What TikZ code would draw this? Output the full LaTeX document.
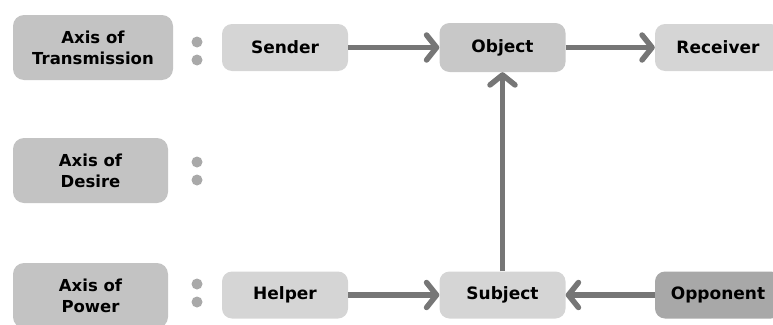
\documentclass[tikz,border=0pt]{standalone}
\usepackage{fontspec}
\setmainfont{DejaVu Sans}
\usetikzlibrary{arrows.meta}
\definecolor{axisfill}{HTML}{C3C3C3}
\definecolor{rolefill}{HTML}{D5D5D5}
\definecolor{objfill}{HTML}{C8C8C8}
\definecolor{oppfill}{HTML}{A8A8A8}
\definecolor{dotfill}{HTML}{A9A9A9}
\definecolor{linkcol}{HTML}{767676}
\tikzset{
  axisbox/.style={fill=axisfill, rounded corners=11pt, minimum height=65pt,
    align=center, font=\fontsize{16.5}{21}\selectfont\bfseries, inner sep=0pt},
  rolebox/.style={fill=rolefill, rounded corners=10pt, minimum width=126pt,
    minimum height=47pt, font=\fontsize{17}{20}\selectfont\bfseries, inner sep=0pt},
  dot/.style={circle, fill=dotfill, minimum size=11pt, inner sep=0pt},
  link/.style={draw=linkcol, line width=5.5pt,
    -{Straight Barb[length=10pt,width=25pt,line width=5.5pt,round]}},
}
\begin{document}
\begin{tikzpicture}[x=1pt,y=-1pt]
\useasboundingbox (0,0) rectangle (773,324);

% axis labels
\node[axisbox, minimum width=160pt] (axT) at (93,47.5) {Axis of\\Transmission};
\node[axisbox, minimum width=155pt] (axD) at (90.5,170.5) {Axis of\\Desire};
\node[axisbox, minimum width=155pt] (axP) at (90.5,295.5) {Axis of\\Power};

% separator dots
\node[dot] (dT1) at (197,42) {};
\node[dot] (dT2) at (197,60) {};
\node[dot] (dD1) at (197,162) {};
\node[dot] (dD2) at (197,180) {};
\node[dot] (dP1) at (197,284) {};
\node[dot] (dP2) at (197,302) {};

% actants
\node[rolebox] (sender) at (285,47.5) {Sender};
\node[rolebox, fill=objfill, minimum height=49pt] (object) at (502.5,47.5) {Object};
\node[rolebox] (receiver) at (718,47.5) {Receiver};
\node[rolebox] (helper) at (285,295) {Helper};
\node[rolebox] (subject) at (502.5,295) {Subject};
\node[rolebox, fill=oppfill] (opponent) at (718,295) {Opponent};

% relations
\draw[link] (sender) -- (object);
\draw[link] (object) -- (receiver);
\draw[link] (subject) -- (object);
\draw[link] (helper) -- (subject);
\draw[link] (opponent) -- (subject);
\end{tikzpicture}
\end{document}
